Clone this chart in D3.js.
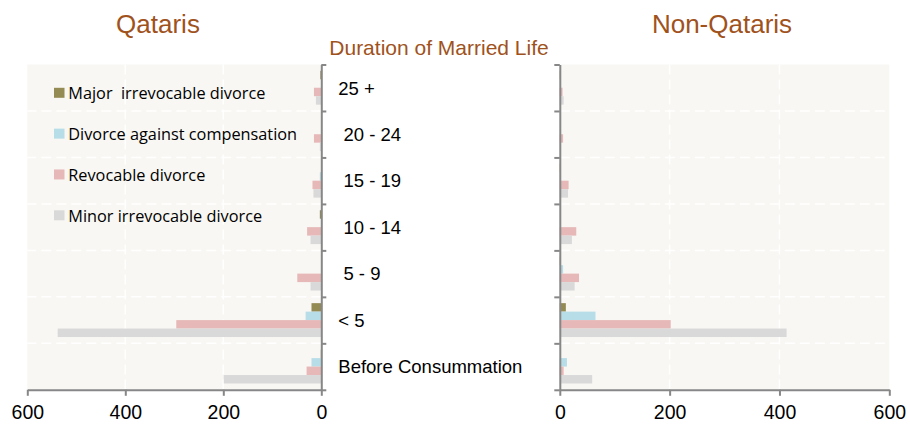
<!DOCTYPE html>
<html>
<head>
<meta charset="utf-8">
<script src="https://cdn.jsdelivr.net/npm/d3@7/dist/d3.min.js"></script>
<style>
  html, body { margin: 0; padding: 0; background: #fff; }
  svg { display: block; }
</style>
</head>
<body>
<svg id="chart" width="910" height="424"></svg>
<script>
// ---- data ----
const categories = ["25 +", "20 - 24", "15 - 19", "10 - 14", "5 - 9", "< 5", "Before Consummation"];
const categoryLabels = ["25 +", " 20 - 24", " 15 - 19", " 10 - 14", " 5 - 9", "< 5", "Before Consummation"];
const seriesNames = ["Major  irrevocable divorce", "Divorce against compensation", "Revocable divorce", "Minor irrevocable divorce"];
const seriesColors = ["#948a54", "#b7dde8", "#e6b9b8", "#d9d9d9"];

const qatarisMajor        = [2, 0, 0, 3, 0, 20, 1];
const qatarisCompensation = [0, 0, 3, 0, 0, 32, 20];
const qatarisRevocable    = [15, 15, 18, 29, 49, 296, 30];
const qatarisMinor        = [11, 3, 16, 22, 22, 538, 199];

const nonQatarisMajor        = [1, 0, 1, 0, 1, 11, 0];
const nonQatarisCompensation = [0, 0, 2, 0, 6, 65, 13];
const nonQatarisRevocable    = [5, 6, 16, 30, 35, 202, 7];
const nonQatarisMinor        = [7, 1, 15, 22, 27, 413, 59];

const xTicks = [0, 200, 400, 600];

const titleLeft = "Qataris";
const titleRight = "Non-Qataris";
const titleMiddle = "Duration of Married Life";

// ---- layout ----
(function () {
const svg = d3.select("#chart");
const plotTop = 64.5, plotBottom = 389.8;
const leftX0 = 321.3, leftX600 = 27.3;
const rightX0 = 559.8, rightX600 = 889.3;
const axisColor = "#878787";
const titleColor = "#a0521c";
const bg = "#f8f7f3";

const xL = d3.scaleLinear().domain([0, 600]).range([leftX0, leftX600]);
const xR = d3.scaleLinear().domain([0, 600]).range([rightX0, rightX600]);
const y = d3.scaleBand().domain(categories).range([plotTop, plotBottom]);
const yIdx = d3.scaleLinear().domain([0, categories.length]).range([plotTop, plotBottom]);
const sub = d3.scaleBand().domain(d3.range(seriesNames.length)).range([6.3, y.bandwidth() - 6.3]);

const leftSeries = [qatarisMajor, qatarisCompensation, qatarisRevocable, qatarisMinor];
const rightSeries = [nonQatarisMajor, nonQatarisCompensation, nonQatarisRevocable, nonQatarisMinor];

function panel(x, series, x0, x1) {
  const g = svg.append("g");
  g.append("rect")
    .attr("x", Math.min(x0, x1)).attr("y", plotTop)
    .attr("width", Math.abs(x1 - x0)).attr("height", plotBottom - plotTop)
    .attr("fill", bg);
  g.selectAll("line.vg").data(xTicks.filter(t => t !== 0 && t !== 600)).enter()
    .append("line").attr("class", "vg")
    .attr("x1", d => x(d)).attr("x2", d => x(d))
    .attr("y1", plotTop).attr("y2", plotBottom)
    .attr("stroke", "#fff").attr("stroke-width", 1.5).attr("stroke-dasharray", "10,5");
  g.selectAll("line.hg").data(d3.range(1, categories.length)).enter()
    .append("line").attr("class", "hg")
    .attr("x1", x0).attr("x2", x1)
    .attr("y1", d => yIdx(d)).attr("y2", d => yIdx(d))
    .attr("stroke", "#fff").attr("stroke-width", 1.5).attr("stroke-dasharray", "10,5");
  series.forEach((vals, si) => {
    g.selectAll("rect.s" + si).data(vals).enter()
      .append("rect").attr("class", "s" + si)
      .attr("x", d => Math.min(x(0), x(d)))
      .attr("width", d => Math.abs(x(d) - x(0)))
      .attr("y", (d, i) => y(categories[i]) + sub(si))
      .attr("height", sub.bandwidth())
      .attr("fill", seriesColors[si]);
  });
  const ax = g.append("g").attr("transform", `translate(0,${plotBottom})`)
    .call(d3.axisBottom(x).tickValues(xTicks).tickSize(6).tickSizeOuter(0).tickFormat(d3.format("d")));
  ax.select(".domain").attr("stroke", axisColor).attr("stroke-width", 2);
  ax.selectAll(".tick line").attr("stroke", axisColor).attr("stroke-width", 2);
  ax.selectAll(".tick text")
    .attr("y", 0).attr("dy", null)
    .attr("transform", "translate(0,29.5)")
    .attr("fill", "#000")
    .style("font-family", "'Liberation Sans', Arial, sans-serif")
    .style("font-size", "19.5px");
  return g;
}

panel(xL, leftSeries, leftX0, leftX600);
panel(xR, rightSeries, rightX0, rightX600);

function styleAxis(a) {
  a.select(".domain").attr("stroke", axisColor).attr("stroke-width", 2);
  a.selectAll(".tick line").attr("stroke", axisColor).attr("stroke-width", 2);
  a.selectAll(".tick text").remove();
}
const ly = svg.append("g").attr("transform", `translate(${leftX0},0)`)
  .call(d3.axisRight(yIdx).tickValues(d3.range(0, categories.length + 1)).tickSize(5).tickSizeOuter(0));
styleAxis(ly);
const ry = svg.append("g").attr("transform", `translate(${rightX0},0)`)
  .call(d3.axisLeft(yIdx).tickValues(d3.range(0, categories.length + 1)).tickSize(5.5).tickSizeOuter(0));
styleAxis(ry);

svg.append("g").selectAll("text").data(categories).enter()
  .append("text")
  .attr("x", 338.3)
  .attr("y", d => y(d) + y.bandwidth() / 2 + 6.8)
  .style("white-space", "pre")
  .attr("xml:space", "preserve")
  .style("font-family", "'Liberation Sans', Arial, sans-serif")
  .style("font-size", "18.5px")
  .attr("fill", "#000")
  .text((d, i) => categoryLabels[i]);

svg.append("text").attr("x", 158).attr("y", 33).attr("text-anchor", "middle")
  .style("font-family", "'Liberation Sans', Arial, sans-serif").style("font-size", "26px")
  .attr("fill", titleColor).text(titleLeft);
svg.append("text").attr("x", 722).attr("y", 33).attr("text-anchor", "middle")
  .style("font-family", "'Liberation Sans', Arial, sans-serif").style("font-size", "26px")
  .attr("fill", titleColor).text(titleRight);
svg.append("text").attr("x", 439).attr("y", 55).attr("text-anchor", "middle")
  .style("font-family", "'Liberation Sans', Arial, sans-serif").style("font-size", "21px")
  .attr("fill", titleColor).text(titleMiddle);

const legend = svg.append("g");
const legY = d3.scaleLinear().domain([0, 3]).range([92.8, 215.3]);
seriesNames.forEach((name, i) => {
  legend.append("rect").attr("x", 54).attr("y", legY(i) - 5).attr("width", 10.5).attr("height", 10)
    .attr("fill", seriesColors[i]);
  legend.append("text").attr("x", 68.3).attr("y", legY(i) + 6.3)
    .style("white-space", "pre").attr("xml:space", "preserve")
    .style("font-family", "'Open Sans', sans-serif").style("font-size", "16.3px")
    .attr("fill", "#000").text(name);
});
})();
</script>
</body>
</html>
